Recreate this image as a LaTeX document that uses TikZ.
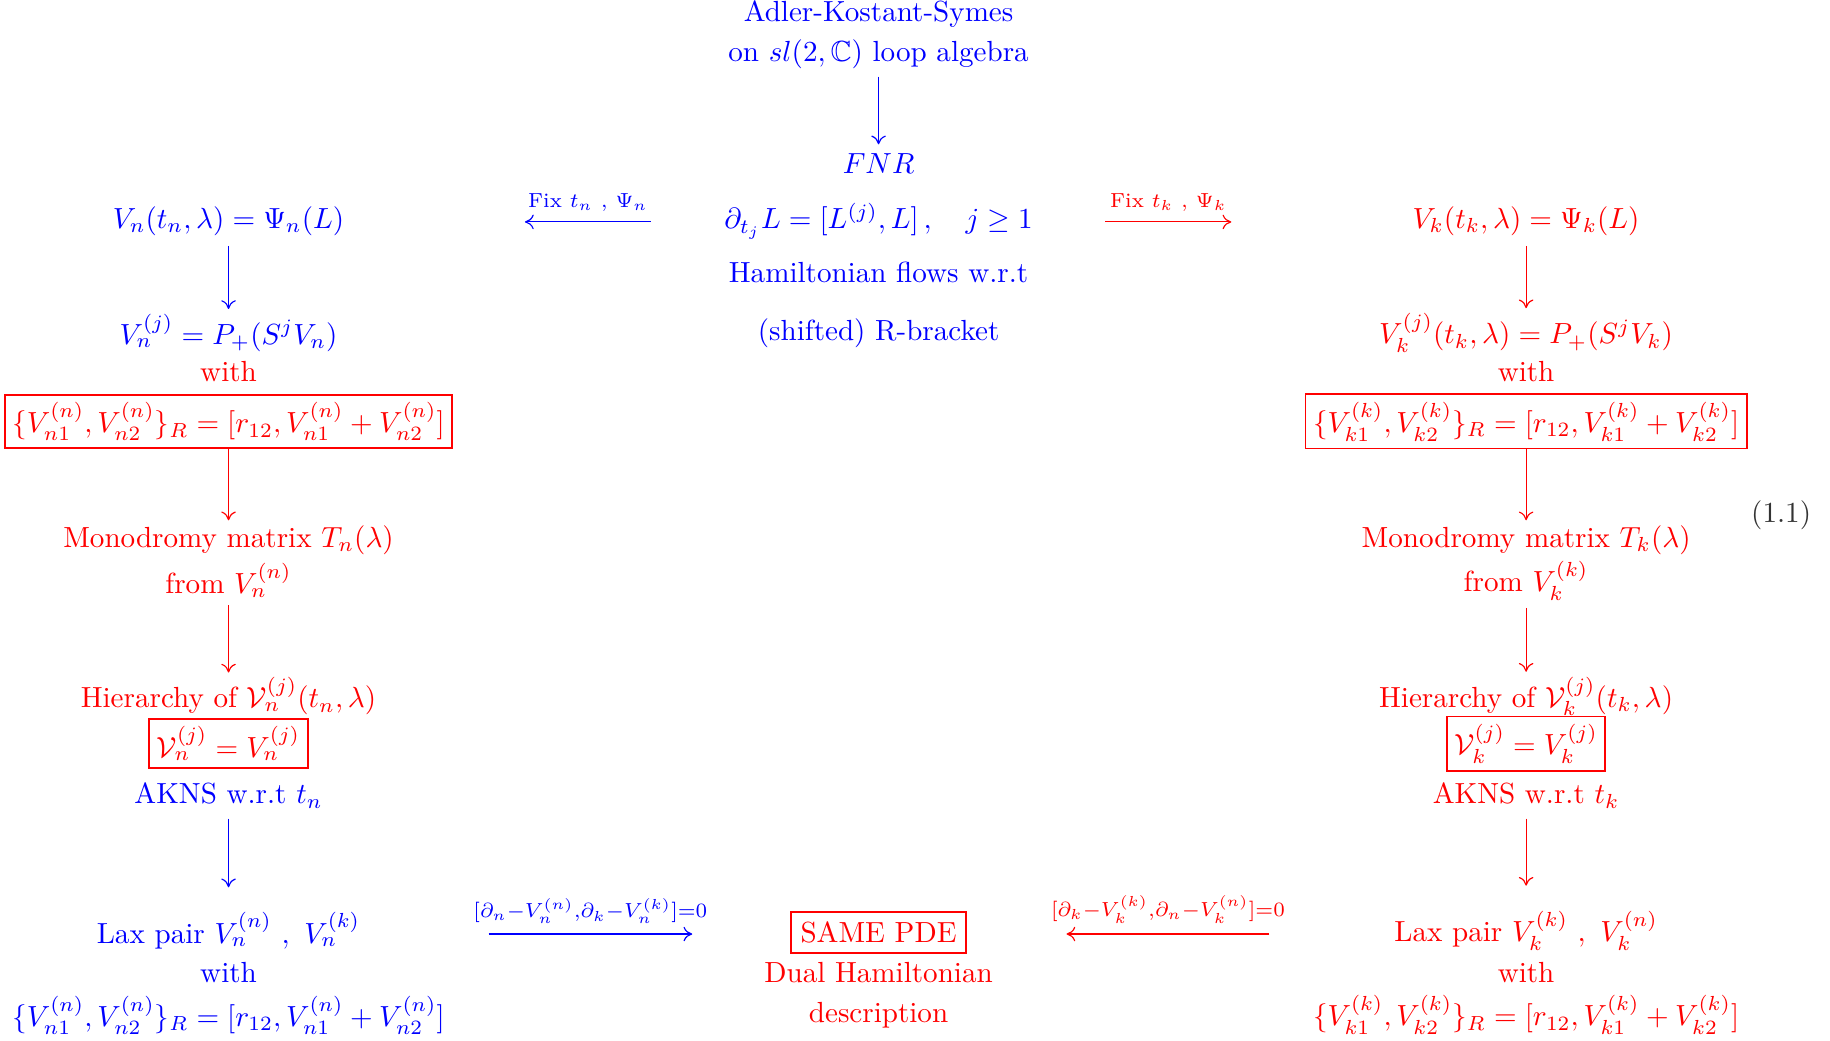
\documentclass[tikz,border=0pt]{standalone}
\usepackage{amsmath}
\usepackage{amssymb}
\usetikzlibrary{positioning,arrows.meta}

\begin{document}
\begin{tikzpicture}[
    boxed/.style={draw, line width=0.6pt, inner sep=2.6pt},
    arrow/.style={-{To[length=3pt,width=5pt]}, shorten >=-1.8pt},
    tag/.style={font=\scriptsize}
]
\useasboundingbox (0,0) rectangle (22.10,12.56);

% Centre column
\node[blue] (aks) at (10.61,12.39) {Adler-Kostant-Symes};
\node[blue] (loop) at (10.61,11.91) {on $sl(2,\mathbb{C})$ loop algebra};
\node[blue] (fnr) at (10.61,10.59) {$FNR$};
\node[blue] (flow) at (10.61,9.89) {$\partial_{t_j}L=[L^{(j)},L]\,,\quad j\geq 1$};
\node[blue] (ham) at (10.61,9.27) {Hamiltonian flows w.r.t};
\node[blue] (rbr) at (10.61,8.54) {(shifted) R-bracket};
\node[red, boxed, inner sep=3.3pt] (same) at (10.61,1.30) {SAME PDE};
\node[red] (dual) at (10.61,0.82) {Dual Hamiltonian};
\node[red] (descr) at (10.61,0.30) {description};

% Left column
\node[blue] (vn) at (2.76,9.89) {$V_n(t_n,\lambda)=\Psi_n(L)$};
\node[blue] (vnj) at (2.76,8.54) {$V_n^{(j)}=P_+(S^jV_n)$};
\node[red] (withn) at (2.76,8.07) {with};
\node[red, boxed] (brn) at (2.76,7.47) {$\{V_{n1}^{(n)},V_{n2}^{(n)}\}_R=[r_{12},V_{n1}^{(n)}+V_{n2}^{(n)}]$};
\node[red] (monn) at (2.76,6.04) {Monodromy matrix $T_n(\lambda)$};
\node[red] (fromn) at (2.76,5.55) {from $V_n^{(n)}$};
\node[red] (hiern) at (2.76,4.15) {Hierarchy of $\mathcal{V}_n^{(j)}(t_n,\lambda)$};
\node[red, boxed] (eqn) at (2.76,3.58) {$\mathcal{V}_n^{(j)}=V_n^{(j)}$};
\node[blue] (aknsn) at (2.76,2.95) {AKNS w.r.t $t_n$};
\node[blue] (laxn) at (2.76,1.32) {Lax pair $V_n^{(n)}\ ,\ V_n^{(k)}$};
\node[blue] (withlaxn) at (2.76,0.82) {with};
\node[blue] (brlaxn) at (2.76,0.30) {$\{V_{n1}^{(n)},V_{n2}^{(n)}\}_R=[r_{12},V_{n1}^{(n)}+V_{n2}^{(n)}]$};

% Right column
\node[red] (vk) at (18.43,9.89) {$V_k(t_k,\lambda)=\Psi_k(L)$};
\node[red] (vkj) at (18.43,8.54) {$V_k^{(j)}(t_k,\lambda)=P_+(S^jV_k)$};
\node[red] (withk) at (18.43,8.07) {with};
\node[red, boxed] (brk) at (18.43,7.47) {$\{V_{k1}^{(k)},V_{k2}^{(k)}\}_R=[r_{12},V_{k1}^{(k)}+V_{k2}^{(k)}]$};
\node[red] (monk) at (18.43,6.04) {Monodromy matrix $T_k(\lambda)$};
\node[red] (fromk) at (18.43,5.55) {from $V_k^{(k)}$};
\node[red] (hierk) at (18.43,4.15) {Hierarchy of $\mathcal{V}_k^{(j)}(t_k,\lambda)$};
\node[red, boxed] (eqk) at (18.43,3.58) {$\mathcal{V}_k^{(j)}=V_k^{(j)}$};
\node[red] (aknsk) at (18.43,2.95) {AKNS w.r.t $t_k$};
\node[red] (laxk) at (18.43,1.32) {Lax pair $V_k^{(k)}\ ,\ V_k^{(n)}$};
\node[red] (withlaxk) at (18.43,0.82) {with};
\node[red] (brlaxk) at (18.43,0.30) {$\{V_{k1}^{(k)},V_{k2}^{(k)}\}_R=[r_{12},V_{k1}^{(k)}+V_{k2}^{(k)}]$};

\node[black!80] (num) at (21.51,6.34) {(1.1)};

% Arrow ends
\coordinate (fixnA) at (7.86,9.88);
\coordinate (fixnB) at (6.34,9.88);
\coordinate (fixkA) at (13.35,9.88);
\coordinate (fixkB) at (14.87,9.88);
\coordinate (zcnA) at (5.90,1.28);
\coordinate (zcnB) at (8.36,1.28);
\coordinate (zckA) at (15.33,1.28);
\coordinate (zckB) at (12.88,1.28);

% Arrows
\draw[arrow, blue, shorten <=-0.7pt, shorten >=-0.5pt] (loop) -- (fnr);
\draw[arrow, blue] (vn) -- (vnj);
\draw[arrow, red] (brn) -- (monn);
\draw[arrow, red, shorten <=-0.8pt] (fromn) -- (hiern);
\draw[arrow, blue, shorten >=5.2pt] (aknsn) -- (laxn);
\draw[arrow, red] (vk) -- (vkj);
\draw[arrow, red] (brk) -- (monk);
\draw[arrow, red, shorten <=-0.8pt] (fromk) -- (hierk);
\draw[arrow, red, shorten >=5.2pt] (aknsk) -- (laxk);
\draw[arrow, blue, shorten >=0pt] (fixnA) -- node[tag, blue, above] {Fix $t_n\ {,}\ \Psi_n$} (fixnB);
\draw[arrow, red, shorten >=0pt] (fixkA) -- node[tag, red, above] {Fix $t_k\ {,}\ \Psi_k$} (fixkB);
\draw[arrow, blue, shorten >=0pt] (zcnA) -- node[tag, blue, above] {$[\partial_n{-}V_n^{(n)}{,}\partial_k{-}V_n^{(k)}]{=}0$} (zcnB);
\draw[arrow, red, shorten >=0pt] (zckA) -- node[tag, red, above] {$[\partial_k{-}V_k^{(k)}{,}\partial_n{-}V_k^{(n)}]{=}0$} (zckB);

\end{tikzpicture}
\end{document}
